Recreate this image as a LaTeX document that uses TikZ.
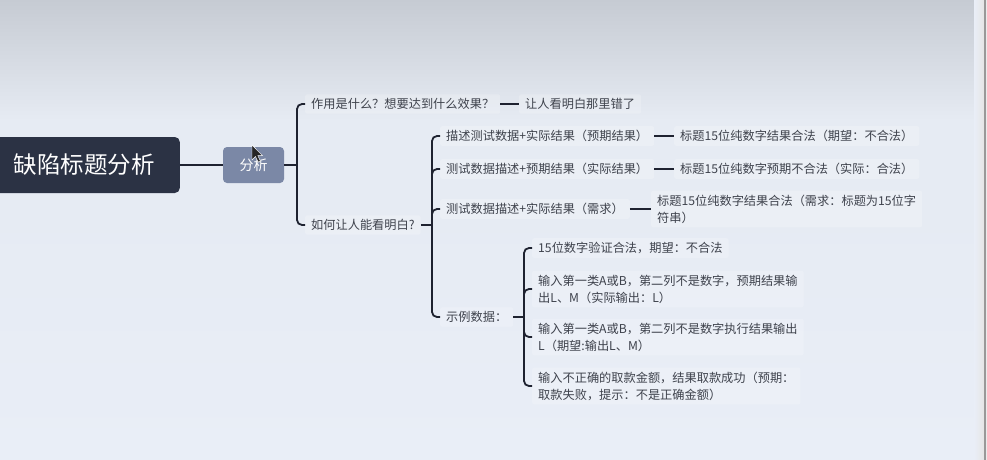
\documentclass[tikz,border=0pt]{standalone}
\usepackage{fontspec}
\setmainfont{Noto Sans CJK SC}
\begin{document}
\definecolor{bgtop}{HTML}{C6CBD3}
\definecolor{bgmid}{HTML}{E6EBF3}
\definecolor{bgbot}{HTML}{E9EEF7}
\definecolor{rootfill}{HTML}{2B3244}
\definecolor{subfill}{HTML}{7B88A6}
\definecolor{linecol}{HTML}{1E2230}
\definecolor{txtcol}{HTML}{3E424C}
\tikzset{
  leaf/.style={anchor=west, inner xsep=6pt, inner ysep=4pt, text=txtcol,
    font=\fontsize{12.2}{17}\selectfont, align=left,
    fill=white, fill opacity=0.2, text opacity=1, rounded corners=2pt},
  rootbox/.style={fill=rootfill, text=white, rounded corners=5pt,
    font=\fontsize{23.5}{28}\selectfont, minimum height=56pt, inner xsep=25pt},
  subbox/.style={fill=subfill, text=white, rounded corners=4pt,
    font=\fontsize{14}{16}\selectfont, minimum width=61pt, minimum height=36pt},
  conn/.style={draw=linecol, line width=1.8pt},
  brk/.style={draw=linecol, line width=1.8pt, rounded corners=5pt},
}
\begin{tikzpicture}[x=1pt,y=-1pt]
\useasboundingbox (0,0) rectangle (987,460);
% backdrop: grey fading into pale blue
\shade[top color=bgtop, bottom color=bgmid] (0,0) rectangle (987,120);
\fill[bgmid] (0,120) rectangle (987,200);
\shade[top color=bgmid, bottom color=bgbot] (0,200) rectangle (987,460);
\shade[left color=bgbot, right color=black!10] (974,0) rectangle (984,460);
\fill[black!40] (984,0) rectangle (985.5,460);
\fill[black!8] (985.5,0) rectangle (987,460);

% central topic and first branch
\node[rootbox, anchor=east] (root) at (180,165) {缺陷标题分析};
\node[subbox] (fx) at (253.5,165) {分析};
\draw[conn] (root.east) -- (fx.west);

% first level questions
\coordinate (b1) at (297,165);
\node[leaf] (q1) at (305,104) {作用是什么？想要达到什么效果？};
\node[leaf] (q2) at (305,225) {如何让人能看明白?};
\node[leaf] (a1) at (519,104) {让人看明白那里错了};
\draw[conn] (fx.east) -- (b1);
\draw[brk] (b1) |- (q1.west);
\draw[brk] (b1) |- (q2.west);
\draw[conn] (q1.east) -- (a1.west);

% ways to make the title clear
\coordinate (b2) at (432,225);
\node[leaf] (c1) at (440,136) {描述测试数据+实际结果（预期结果）};
\node[leaf] (c2) at (440,169) {测试数据描述+预期结果（实际结果）};
\node[leaf] (c3) at (440,209) {测试数据描述+实际结果（需求）};
\node[leaf] (c4) at (440,317) {示例数据：};
\draw[conn] (q2.east) -- (b2);
\foreach \c in {c1,c2,c3,c4} \draw[brk] (b2) |- (\c.west);

\node[leaf] (d1) at (674,136) {标题15位纯数字结果合法（期望：不合法）};
\node[leaf] (d2) at (674,169) {标题15位纯数字预期不合法（实际：合法）};
\node[leaf] (d3) at (651,209) {标题15位纯数字结果合法（需求：标题为15位字\\符串）};
\draw[conn] (c1.east) -- (d1.west);
\draw[conn] (c2.east) -- (d2.west);
\draw[conn] (c3.east) -- (d3.west);

% sample data
\coordinate (b3) at (524,317);
\node[leaf] (e1) at (532,248) {15位数字验证合法，期望：不合法};
\node[leaf] (e2) at (532,289) {输入第一类A或B，第二列不是数字，预期结果输\\出L、M（实际输出：L）};
\node[leaf] (e3) at (532,337) {输入第一类A或B，第二列不是数字执行结果输出\\L（期望:输出L、M）};
\node[leaf] (e4) at (532,386) {输入不正确的取款金额，结果取款成功（预期：\\取款失败，提示：不是正确金额）};
\draw[conn] (c4.east) -- (b3);
\foreach \e in {e1,e2,e3,e4} \draw[brk] (b3) |- (\e.west);

% mouse pointer
\fill[black!85, draw=white, line width=0.4pt]
  (252,145) -- (252,160) -- (255.5,156.5) -- (258.2,162) -- (260.4,161)
  -- (257.8,155.6) -- (262.5,155.6) -- cycle;
\end{tikzpicture}
\end{document}
